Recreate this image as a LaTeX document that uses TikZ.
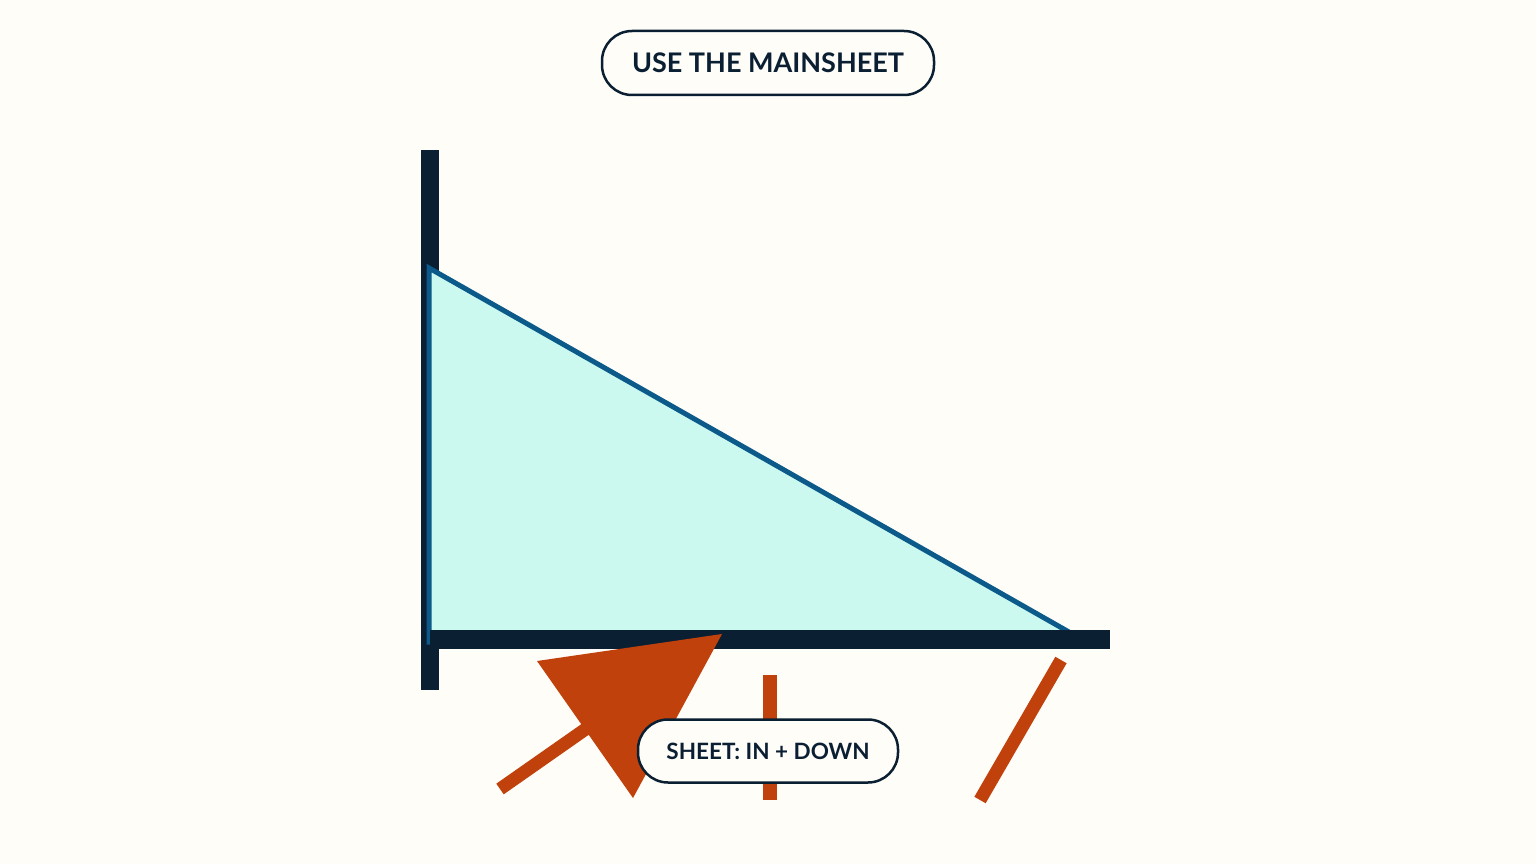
\documentclass[tikz,border=0pt]{standalone}
\usepackage{fontspec}
\setmainfont{Lato}
\definecolor{bg}{HTML}{FEFDF8}
\definecolor{navy}{HTML}{0B1F33}
\definecolor{sea}{HTML}{0B5A8A}
\definecolor{mint}{HTML}{CCF9EF}
\definecolor{rust}{HTML}{C1410C}
\tikzset{
  pill/.style={draw=navy, line width=2.5pt, fill=bg, rounded corners=30pt, text=navy, font=\bfseries, inner xsep=0pt, inner ysep=0pt},
  bar/.style={fill=navy, draw=none},
  rustline/.style={draw=rust, line width=13pt}
}
\begin{document}
\begin{tikzpicture}[x=1pt,y=-1pt]
\fill[bg] (0,0) rectangle (1536,864);
\useasboundingbox (0,0) rectangle (1536,864);
% vertical bar
\fill[bar] (421,150) rectangle (439,690);
% triangle
\coordinate (tA) at (429,268);
\coordinate (tB) at (429,642);
\coordinate (tC) at (1083,640);
\draw[fill=mint, draw=sea, line width=5pt, line join=miter] (tA) -- (tB) -- (tC) -- cycle;
% horizontal bar
\fill[bar] (430,630) rectangle (1110,649);
% arrow
\coordinate (s0) at (500,789);
\coordinate (s1) at (600,719);
\draw[draw=rust, line width=13pt] (s0) -- (s1);
\fill[rust] (537,661) -- (722,634) -- (633,798) -- cycle;
% vertical orange
\coordinate (v0) at (770,675);
\coordinate (v1) at (770,800);
\draw[rustline, line width=14pt] (v0) -- (v1);
% diagonal orange
\coordinate (d0) at (1061,660);
\coordinate (d1) at (980,800);
\draw[rustline] (d0) -- (d1);
% labels
\node[pill, minimum width=332pt, minimum height=64pt, font=\bfseries\fontsize{27}{31}\selectfont] (top) at (768,63) {USE THE MAINSHEET};
\node[pill, minimum width=260pt, minimum height=63pt, font=\bfseries\fontsize{22.5}{26}\selectfont] (bot) at (768,751) {SHEET: IN + DOWN};
\end{tikzpicture}
\end{document}
